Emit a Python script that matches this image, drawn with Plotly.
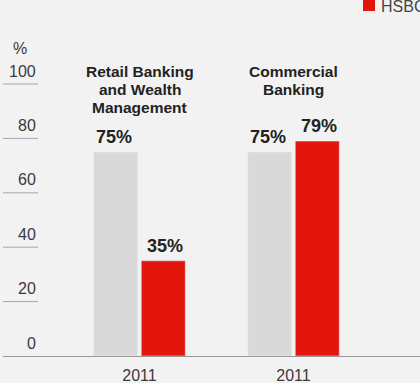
import plotly.graph_objects as go

# Data
groups = [["Retail Banking", "and Wealth", "Management"], ["Commercial", "Banking"]]
years = ["2011", "2011"]
market = [75, 75]
hsbc = [35, 79]
y_ticks = [0, 20, 40, 60, 80, 100]

W, H = 420, 383
ML, MR, MT, MB = 3, 0, 16, 27
Y_MAX = 125
PW, PH = W - ML - MR, H - MT - MB

GREY = "#d9d9d9"
RED = "#e3160e"
BG = "#f2f2f2"
FONT = "Liberation Sans"

xs = list(range(len(groups)))


def px_x(px):
    return (px - ML) / PW


def px_y(py):
    return (H - MB - py) / PH


fig = go.Figure()
fig.add_trace(go.Bar(x=xs, y=market, marker_color=GREY, name="Market",
                     showlegend=False, hoverinfo="skip"))
fig.add_trace(go.Bar(x=xs, y=hsbc, marker_color=RED, name="HSBC",
                     showlegend=False, hoverinfo="skip"))

annotations = []
shapes = []

# value labels above bars
bar_off = 0.1656
for i, (m, h) in enumerate(zip(market, hsbc)):
    for val, dx in ((m, -bar_off), (h, bar_off)):
        annotations.append(dict(x=xs[i] + dx, y=val, xref="x", yref="y",
                                text=f"<b>{val}%</b>", showarrow=False,
                                yanchor="bottom", yshift=3,
                                font=dict(family=FONT, size=18, color="#222"),
                                xanchor="center"))
    # group titles, one line at a time for tight leading
    for k, line in enumerate(groups[i]):
        annotations.append(dict(x=xs[i], y=px_y(71 + 18 * k), xref="x",
                                yref="paper", text=f"<b>{line}</b>",
                                showarrow=False, yanchor="middle",
                                xanchor="center",
                                font=dict(family=FONT, size=15.5, color="#222")))

# short grid segments with labels on the left
for t in y_ticks:
    if t > 0:
        shapes.append(dict(type="line", xref="paper", yref="y",
                           x0=0, x1=px_x(38), y0=t, y1=t,
                           line=dict(color="#a6a6a6", width=1)))
    annotations.append(dict(x=px_x(38), y=t, xref="paper", yref="y",
                            text=str(t), showarrow=False, xanchor="right",
                            yanchor="middle", yshift=13,
                            font=dict(family=FONT, size=16, color="#3a3a3a")))
annotations.append(dict(x=px_x(20), y=y_ticks[-1], xref="paper", yref="y",
                        text="%", showarrow=False, xanchor="center",
                        yanchor="middle", yshift=36,
                        font=dict(family=FONT, size=16, color="#3a3a3a")))

# legend entry
shapes.append(dict(type="rect", xref="paper", yref="paper",
                   x0=px_x(363), x1=px_x(375), y0=px_y(11), y1=px_y(-1),
                   fillcolor=RED, line=dict(width=0)))
annotations.append(dict(x=px_x(379), y=px_y(6), xref="paper", yref="paper",
                        text="HSBC", showarrow=False, xanchor="left",
                        yanchor="middle",
                        font=dict(family=FONT, size=16, color="#444")))

fig.update_layout(
    width=W, height=H,
    margin=dict(l=ML, r=MR, t=MT, b=MB, pad=0),
    paper_bgcolor=BG, plot_bgcolor=BG,
    barmode="group", bargap=0.383, bargroupgap=0.074,
    xaxis=dict(range=[-(139.5 - ML) / 154, 1 + (W - 293.5) / 154],
               tickvals=xs, ticktext=years, showgrid=False, zeroline=False,
               showline=True, linecolor="#999", linewidth=1, ticks="",
               ticklabelstandoff=5,
               tickfont=dict(family=FONT, size=16, color="#3a3a3a")),
    yaxis=dict(range=[0, Y_MAX], showgrid=False, zeroline=False,
               showticklabels=False, ticks=""),
    annotations=annotations, shapes=shapes,
    showlegend=False,
)

fig.write_html("out.html")
